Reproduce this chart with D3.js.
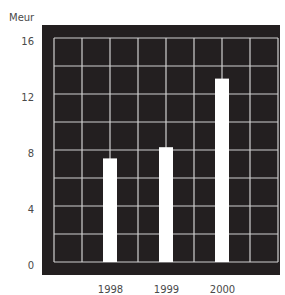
<!DOCTYPE html>
<html><head><meta charset="utf-8">
<script src="https://cdn.jsdelivr.net/npm/d3@7"></script>
<style>body{margin:0;background:#fff}svg{display:block}</style>
</head><body>
<svg id="c" width="285" height="295"></svg>
<script>
const years = [1998, 1999, 2000];
const values = [7.4, 8.2, 13.1];
const yTicks = [0, 4, 8, 12, 16];
const unitLabel = "Meur";

const svg = d3.select("#c");
const x = d3.scaleLinear().domain([1997, 2001]).range([54, 278]);
const y = d3.scaleLinear().domain([0, 16]).range([262, 38]);
const font = "DejaVu Sans, sans-serif";
const txt = "#4a4a4a";

// dark panel
svg.append("rect").attr("x", 42).attr("y", 25).attr("width", 238).attr("height", 250).attr("fill", "#231f20");

const g = svg.append("g");
// grid
g.selectAll("line.v").data(d3.range(1997, 2001.01, 0.5)).join("line")
  .attr("x1", d => x(d)).attr("x2", d => x(d)).attr("y1", y(16)).attr("y2", y(0))
  .attr("stroke", "#d0d0d0").attr("stroke-width", 1.2);
g.selectAll("line.h").data(d3.range(0, 16.01, 2)).join("line")
  .attr("y1", d => y(d)).attr("y2", d => y(d)).attr("x1", x(1997)).attr("x2", x(2001))
  .attr("stroke", "#d0d0d0").attr("stroke-width", 1.2);

// bars
const bw = x(1997.25) - x(1997);
g.selectAll("rect.bar").data(years).join("rect")
  .attr("x", (d) => x(d) - bw / 2).attr("width", bw)
  .attr("y", (d, i) => y(values[i])).attr("height", (d, i) => y(0) - y(values[i]))
  .attr("fill", "#ffffff");

// y axis labels
const yAxis = d3.axisLeft(y).tickValues(yTicks).tickSize(0).tickPadding(0);
const ya = svg.append("g").attr("transform", "translate(34,3.2)").call(yAxis);
ya.select(".domain").remove();
ya.selectAll("text").attr("font-family", font).attr("font-size", 10).attr("fill", txt);

// x axis labels
const xAxis = d3.axisBottom(x).tickValues(years).tickFormat(d3.format("d")).tickSize(0).tickPadding(0);
const xa = svg.append("g").attr("transform", "translate(0,285.6)").call(xAxis);
xa.select(".domain").remove();
xa.selectAll("text").attr("font-family", font).attr("font-size", 10).attr("fill", txt);

svg.append("text").attr("x", 9).attr("y", 21).text(unitLabel)
  .attr("font-family", font).attr("font-size", 10).attr("fill", txt);
</script>
</body></html>
